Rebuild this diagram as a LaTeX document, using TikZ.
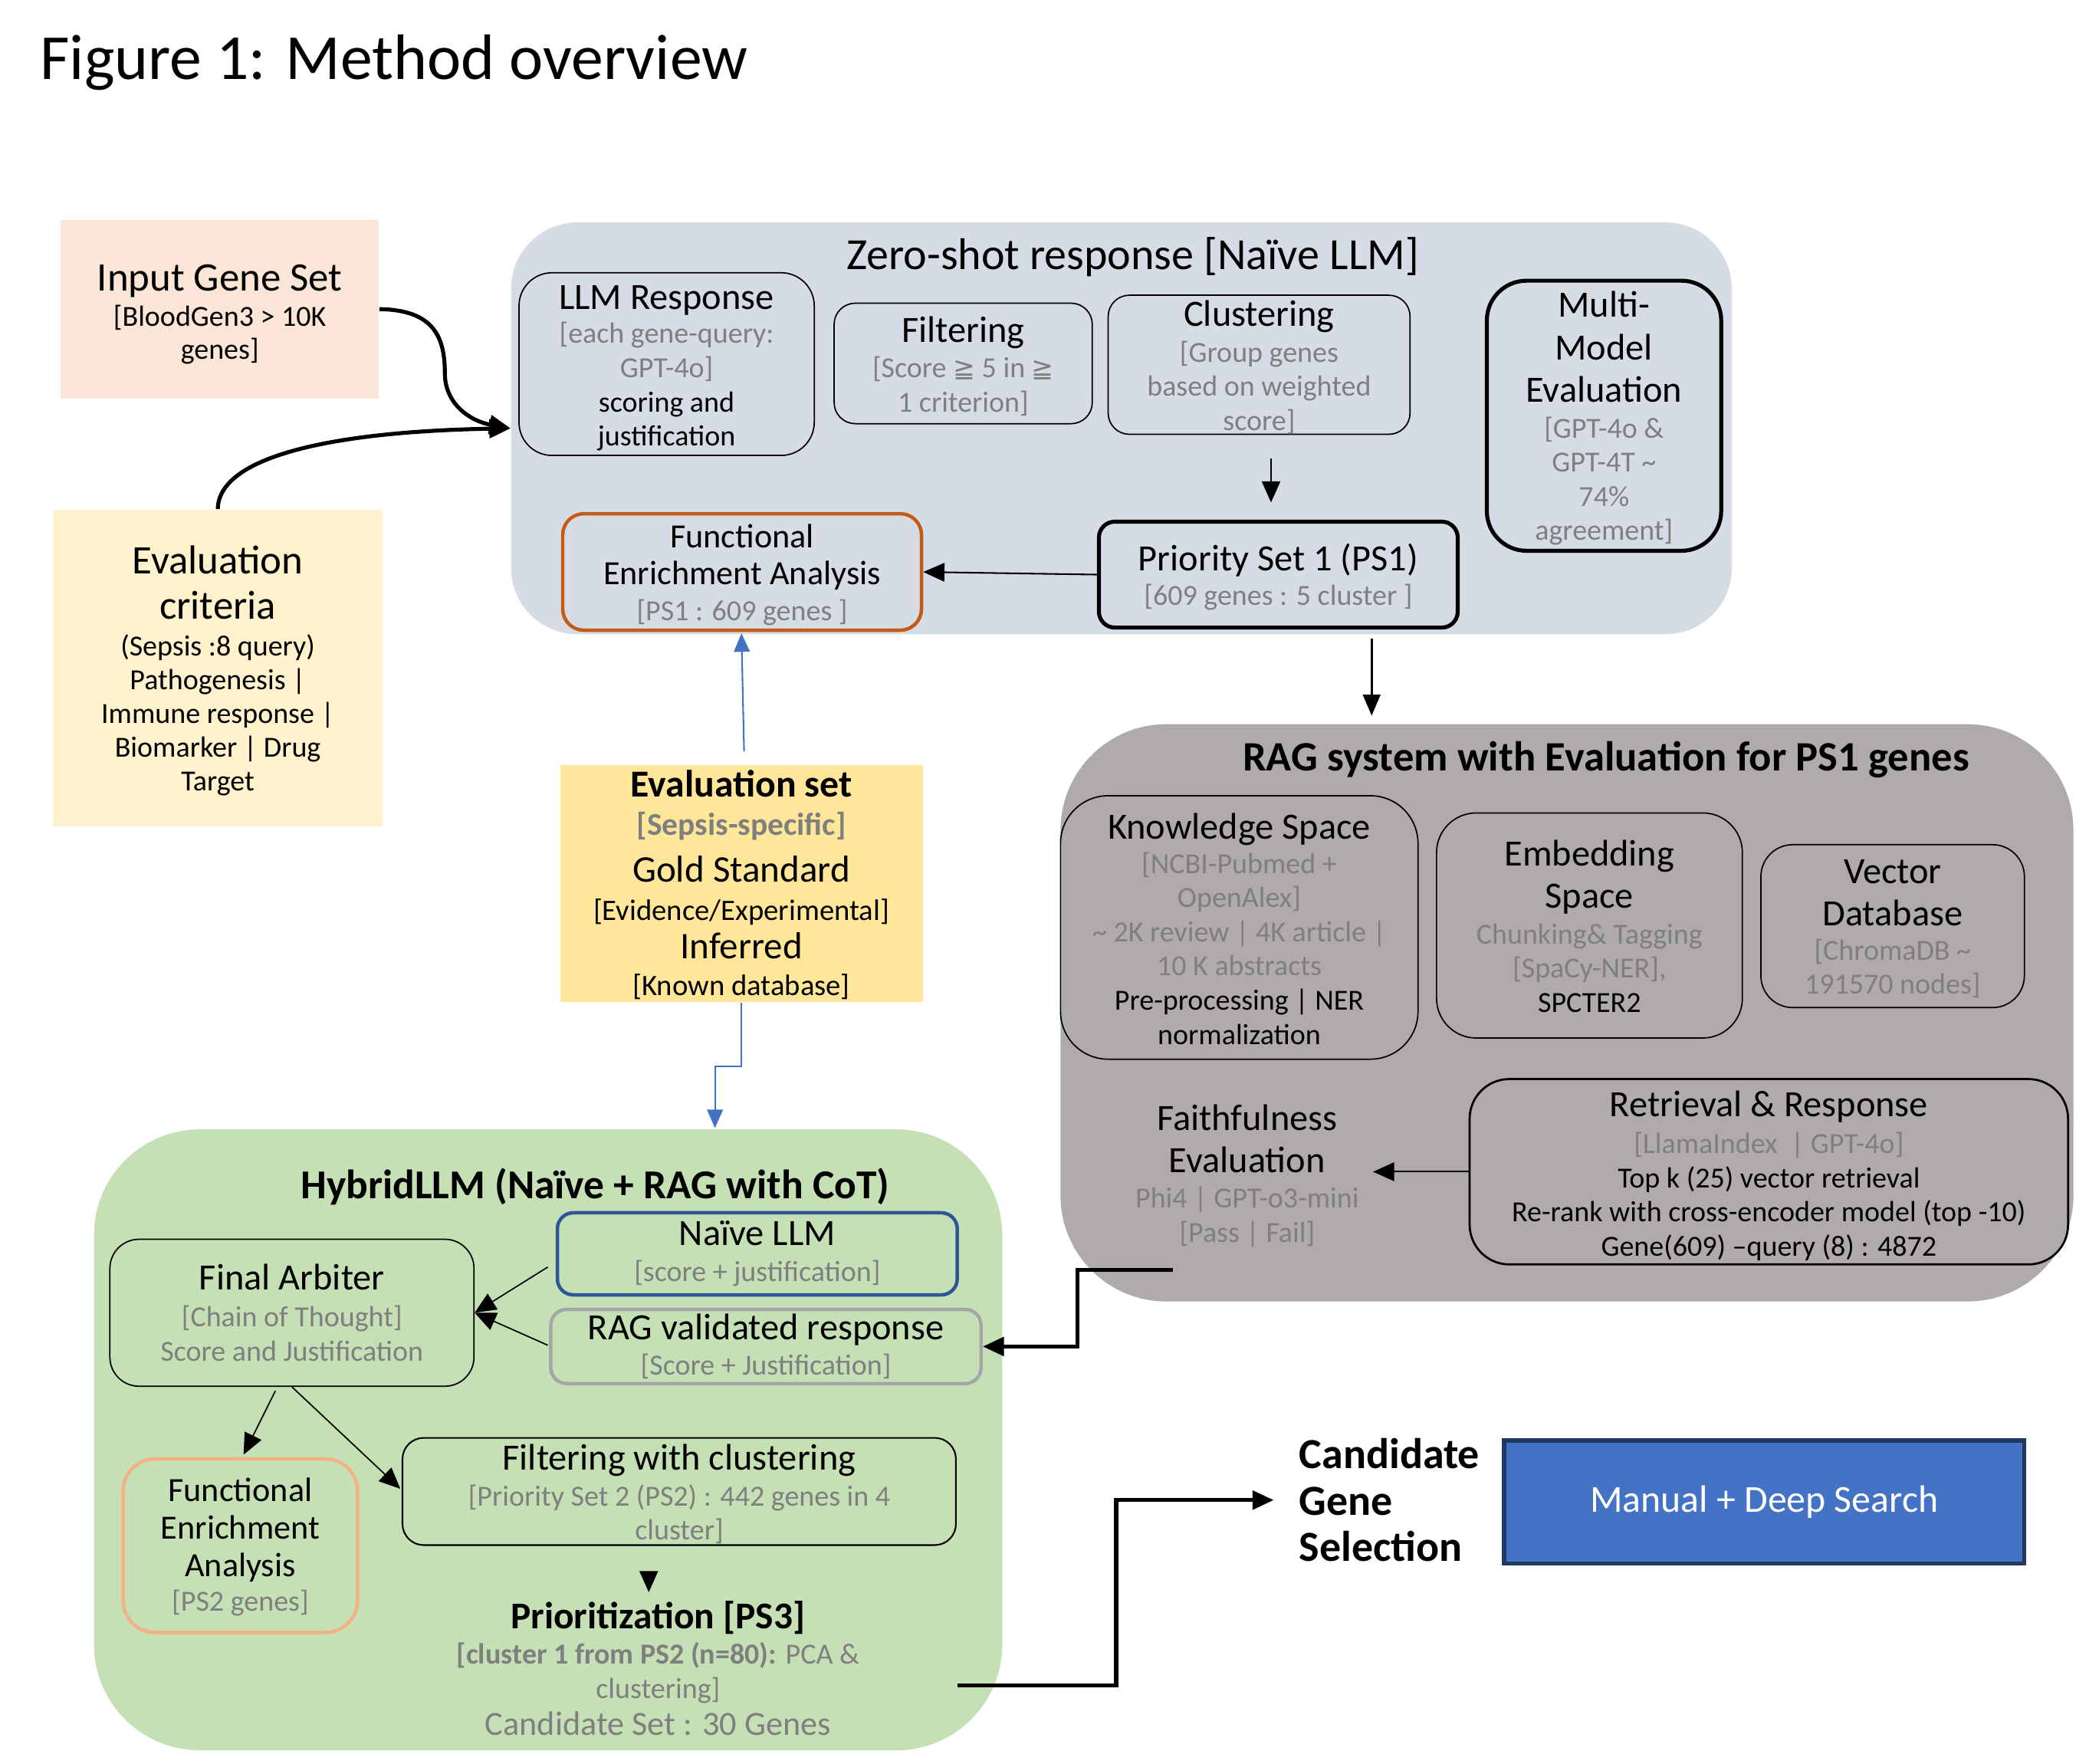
\documentclass[tikz,border=0pt]{standalone}
\usepackage{fontspec}
\setmainfont{Carlito}
\newfontfamily\symfont{DejaVu Sans}
\usetikzlibrary{arrows.meta,calc}
\definecolor{zsbg}{HTML}{D6DCE5}
\definecolor{ragbg}{HTML}{AFABAB}
\definecolor{hybg}{HTML}{C5E0B4}
\definecolor{peach}{HTML}{FBE5D6}
\definecolor{lightyel}{HTML}{FFF2CC}
\definecolor{evsyel}{HTML}{FFE699}
\definecolor{txtgrey}{HTML}{7F7F7F}
\definecolor{feaorange}{HTML}{C55A11}
\definecolor{fealight}{HTML}{F4B183}
\definecolor{navyblue}{HTML}{2F5597}
\definecolor{rvgrey}{HTML}{A6A6A6}
\definecolor{mdsblue}{HTML}{4472C4}
\definecolor{mdsnavy}{HTML}{1F3864}
\definecolor{arrblue}{HTML}{4472C4}
\newcommand\hdr{\fontsize{14}{16}\selectfont}
\newcommand\gr{\color{txtgrey}}
\newcommand\gee{{\symfont\fontsize{10}{12}\selectfont ≧}}
\newcommand\stk[3][2pt]{\parbox{#2}{\centering\vspace*{#1}#3}}
\tikzset{
  box/.style={rectangle, draw, inner sep=0pt, line width=0.5pt,
    font=\fontsize{11}{12.9}\selectfont},
  panel/.style={rectangle, draw=none, inner sep=0pt},
  plaintext/.style={inner sep=0pt, font=\fontsize{11}{12.9}\selectfont},
  thinarrow/.style={line width=0.6pt, -{Triangle[length=8pt,width=7pt]}},
  thickarrow/.style={line width=1.5pt, -{Triangle[length=8pt,width=7pt]}},
  bluearrow/.style={line width=0.6pt, draw=arrblue, -{Triangle[length=7pt,width=6pt]}},
}
\begin{document}
\begin{tikzpicture}[x=0.5pt,y=-0.5pt]
\useasboundingbox (0,0) rectangle (1568,1332);

% title
\node[anchor=west, inner sep=0pt, font=\fontsize{24.25}{28}\selectfont] (ttl) at (30,47) {Figure 1: Method overview};

% containers
\node[panel, fill=zsbg, rounded corners=25pt, minimum width=461pt, minimum height=155.5pt] (zs) at (847,323.5) {};
\node[panel, fill=ragbg, rounded corners=40pt, minimum width=382.5pt, minimum height=218pt] (rag) at (1183.5,765) {};
\node[panel, fill=hybg, rounded corners=40pt, minimum width=343pt, minimum height=234.5pt] (hy) at (414,1087.5) {};

% left boxes
\node[box, draw=none, fill=peach, minimum width=120pt, minimum height=67.5pt, font=\fontsize{11}{12.6}\selectfont] (inp) at (166,233.5)
  {\stk[4pt]{120pt}{{\fontsize{15.3}{17}\selectfont Input Gene Set}\\[0.6pt]{}[BloodGen3 > 10K\\genes]}};
\node[box, draw=none, fill=lightyel, minimum width=124.5pt, minimum height=119.5pt, font=\fontsize{11}{12.75}\selectfont] (evc) at (164.5,504.5)
  {\stk{124.5pt}{{\fontsize{15.3}{17}\selectfont Evaluation\\criteria\\[1.1pt]}(Sepsis :8 query)\\Pathogenesis |\\Immune response |\\Biomarker | Drug\\Target}};

% zero-shot panel content
\node[plaintext, font=\fontsize{16.8}{19}\selectfont] (zst) at (855.5,194) {Zero-shot response [Naïve LLM]};
\node[box, rounded corners=12.5pt, minimum width=111.5pt, minimum height=69pt] (llm) at (503.5,275)
  {\stk[3pt]{111.5pt}{{\hdr LLM Response}\\[0.1pt]{\gr [each gene-query:\\GPT-4o]}\\scoring and\\justification}};
\node[box, rounded corners=8pt, minimum width=97.5pt, minimum height=45.5pt] (filt) at (727.5,274.5)
  {\stk{97.5pt}{{\hdr Filtering}\\[0.6pt]{\gr [Score \gee{} 5 in \gee\\1 criterion]}}};
\node[box, rounded corners=8pt, minimum width=114pt, minimum height=51.5pt] (clu) at (951,275.5)
  {\stk{114pt}{{\hdr Clustering}\\[0.6pt]{\gr [Group genes\\based on weighted\\score]}}};
\node[box, line width=1.5pt, rounded corners=15pt, minimum width=88.5pt, minimum height=102pt] (mm) at (1211.5,314)
  {\stk{88.5pt}{{\hdr Multi-\\Model\\Evaluation\\[0.6pt]}{\gr [GPT-4o \&\\GPT-4T \textasciitilde\\74\%\\agreement]}}};
\node[box, line width=1.5pt, rounded corners=6pt, minimum width=135.5pt, minimum height=40pt] (ps1) at (965.5,434)
  {\stk{135.5pt}{{\hdr Priority Set 1 (PS1)}\\[0.1pt]{\gr [609 genes : 5 cluster ]}}};
\node[box, draw=feaorange, line width=1.3pt, rounded corners=8pt, minimum width=135.5pt, minimum height=44pt] (fea) at (560.5,432)
  {\stk{135.5pt}{{\fontsize{12.8}{14}\selectfont Functional\\Enrichment Analysis\\[0.6pt]}{\gr [PS1 : 609 genes ]}}};

% evaluation set
\node[box, draw=none, fill=evsyel, minimum width=137pt, minimum height=89.5pt, font=\fontsize{11.2}{14.5}\selectfont] (evs) at (560,667.5)
  {\stk[1pt]{137pt}{{\bfseries\fontsize{14.4}{16}\selectfont Evaluation set}\\{\gr\bfseries\fontsize{12}{14}\selectfont [Sepsis-specific]}\\[3pt]{\fontsize{14.2}{16}\selectfont Gold Standard}\\{}[Evidence/Experimental]\\{\fontsize{14.2}{16}\selectfont Inferred}\\[-0.5pt]{}[Known database]}};

% RAG panel content
\node[plaintext, font=\bfseries\fontsize{15.8}{18}\selectfont] (ragt) at (1213,574) {RAG system with Evaluation for PS1 genes};
\node[box, rounded corners=18pt, minimum width=135pt, minimum height=99.5pt] (ks) at (936,700.5)
  {\stk[1pt]{135pt}{{\hdr Knowledge Space}\\[0.1pt]{\gr [NCBI-Pubmed +\\OpenAlex]\\\textasciitilde{} 2K review | 4K article |\\10 K abstracts}\\Pre-processing | NER\\normalization}};
\node[box, rounded corners=15pt, minimum width=115.5pt, minimum height=85pt] (es) at (1200.5,699)
  {\stk[0.5pt]{115.5pt}{{\hdr Embedding\\Space\\[0.6pt]}{\gr Chunking\& Tagging\\{}[SpaCy-NER],}\\SPCTER2}};
\node[box, rounded corners=12pt, minimum width=99.5pt, minimum height=61.5pt] (vd) at (1429.5,699.5)
  {\stk{99.5pt}{{\hdr Vector\\Database\\[0.1pt]}{\gr [ChromaDB \textasciitilde\\191570 nodes]}}};
\node[plaintext] (fe) at (942,888)
  {\stk[0pt]{95pt}{{\hdr Faithfulness\\Evaluation\\[0.6pt]}{\gr Phi4 | GPT-o3-mini\\{}[Pass | Fail]}}};
\node[box, line width=0.8pt, rounded corners=15pt, minimum width=226pt, minimum height=70pt] (rr) at (1336,885)
  {\stk[3pt]{226pt}{{\hdr Retrieval \& Response}\\[1.1pt]{\gr [LlamaIndex \ | GPT-4o]}\\Top k (25) vector retrieval\\Re-rank with cross-encoder model (top -10)\\Gene(609) –query (8) : 4872}};

% Hybrid panel content
\node[plaintext, font=\bfseries\fontsize{15.5}{18}\selectfont] (hyt) at (449.5,896) {HybridLLM (Naïve + RAG with CoT)};
\node[box, rounded corners=11pt, minimum width=137.5pt, minimum height=55.5pt] (fa) at (220.5,991.5)
  {\stk[0pt]{137.5pt}{{\hdr Final Arbiter}\\[1.1pt]{\gr [Chain of Thought]\\Score and Justification}}};
\node[box, draw=navyblue, line width=1.3pt, rounded corners=6pt, minimum width=151pt, minimum height=31pt] (nv) at (572,947)
  {\stk[0pt]{151pt}{{\hdr Naïve LLM}\\[0.6pt]{\gr [score + justification]}}};
\node[box, draw=rvgrey, line width=1.3pt, rounded corners=6pt, minimum width=162.5pt, minimum height=28pt] (rv) at (578.5,1017)
  {\stk[0pt]{162.5pt}{{\hdr RAG validated response}\\[0.6pt]{\gr [Score + Justification]}}};
\node[box, draw=fealight, line width=1.3pt, rounded corners=12pt, minimum width=88.5pt, minimum height=65.5pt] (fea2) at (181.5,1167.5)
  {\stk[1pt]{88.5pt}{{\fontsize{12.8}{14.25}\selectfont Functional\\Enrichment\\Analysis\\[0.1pt]}{\gr [PS2 genes]}}};
\node[box, line width=0.6pt, rounded corners=8pt, minimum width=209pt, minimum height=40.5pt] (fc) at (513,1126.5)
  {\stk{209pt}{{\hdr Filtering with clustering}\\[0.6pt]{\gr [Priority Set 2 (PS2) : 442 genes in 4\\cluster]}}};
\node[plaintext] (pr) at (497,1260)
  {\stk[0pt]{180pt}{{\bfseries\fontsize{14.3}{16}\selectfont Prioritization [PS3]}\\[0.6pt]{\gr\bfseries [cluster 1 from PS2 (n=80):}{\gr{} PCA \&\\clustering]}\\[1.1pt]{\gr\fontsize{12.8}{14}\selectfont Candidate Set : 30 Genes}}};

% candidate selection
\node[anchor=west, inner sep=0pt, font=\bfseries\fontsize{16.2}{17.5}\selectfont] (cgs) at (981,1133) {\parbox{75pt}{\raggedright Candidate\\Gene\\Selection}};
\node[box, fill=mdsblue, draw=mdsnavy, line width=1.5pt, minimum width=196.5pt, minimum height=46.5pt, text=white, font=\fontsize{14.4}{16}\selectfont] (mds) at (1332.5,1134.5) {Manual + Deep Search};

% free connector ends
\coordinate (hybin) at (540,852);
\coordinate (ragout) at (886,959);
\coordinate (prioout) at (723,1273);
\coordinate (candin) at (962,1133);
\coordinate (feout) at (1037,885);

% connectors
\draw[thickarrow] (inp.east) .. controls (328,234) and (336,255) .. (336,282) .. controls (336,305) and (355,318) .. (zs.west);
\draw[thickarrow] (evc.north) .. controls (165,345) and (250,326) .. (zs.west);
\draw[thinarrow, line width=0.5pt] ($(clu.south)+(9,18)$) -- ($(ps1.north)+(-5.5,-13)$);
\draw[thinarrow] (ps1.west) -- (fea.east);
\draw[line width=1pt, -{Triangle[length=8pt,width=6.5pt]}, shorten >=3pt] ($(ps1.south)+(70.5,7)$) coordinate (psd) -- (psd |- rag.north);
\draw[bluearrow] ($(evs.north)+(2,-10)$) -- ($(fea.south)+(-0.5,1)$);
\draw[bluearrow] (evs.south) -- ++(0,48) -| (hybin);
\draw[thinarrow] (rr.west) -- (feout);
\draw[thickarrow] (ragout) -- (814,959) |- (rv.east);
\draw[thinarrow, line width=0.5pt] ($(nv.west)+(-6,10)$) -- (fa.east);
\draw[thinarrow, line width=0.5pt] ($(rv.west)+(-1,-1)$) -- (fa.east);
\draw[thinarrow, line width=0.5pt] ($(fa.south)+(-12.5,3)$) -- ($(fea2.north)+(2.5,-2)$);
\draw[thinarrow, line width=0.5pt] (fa.south) -- ($(fc.west)+(-1,-2)$);
\draw[thinarrow, line width=0.5pt] ($(fc.south)+(-23,20)$) -- ($(fc.south)+(-23,35)$);
\draw[thickarrow] (prioout) -- (843,1273) |- (candin);
\end{tikzpicture}
\end{document}
